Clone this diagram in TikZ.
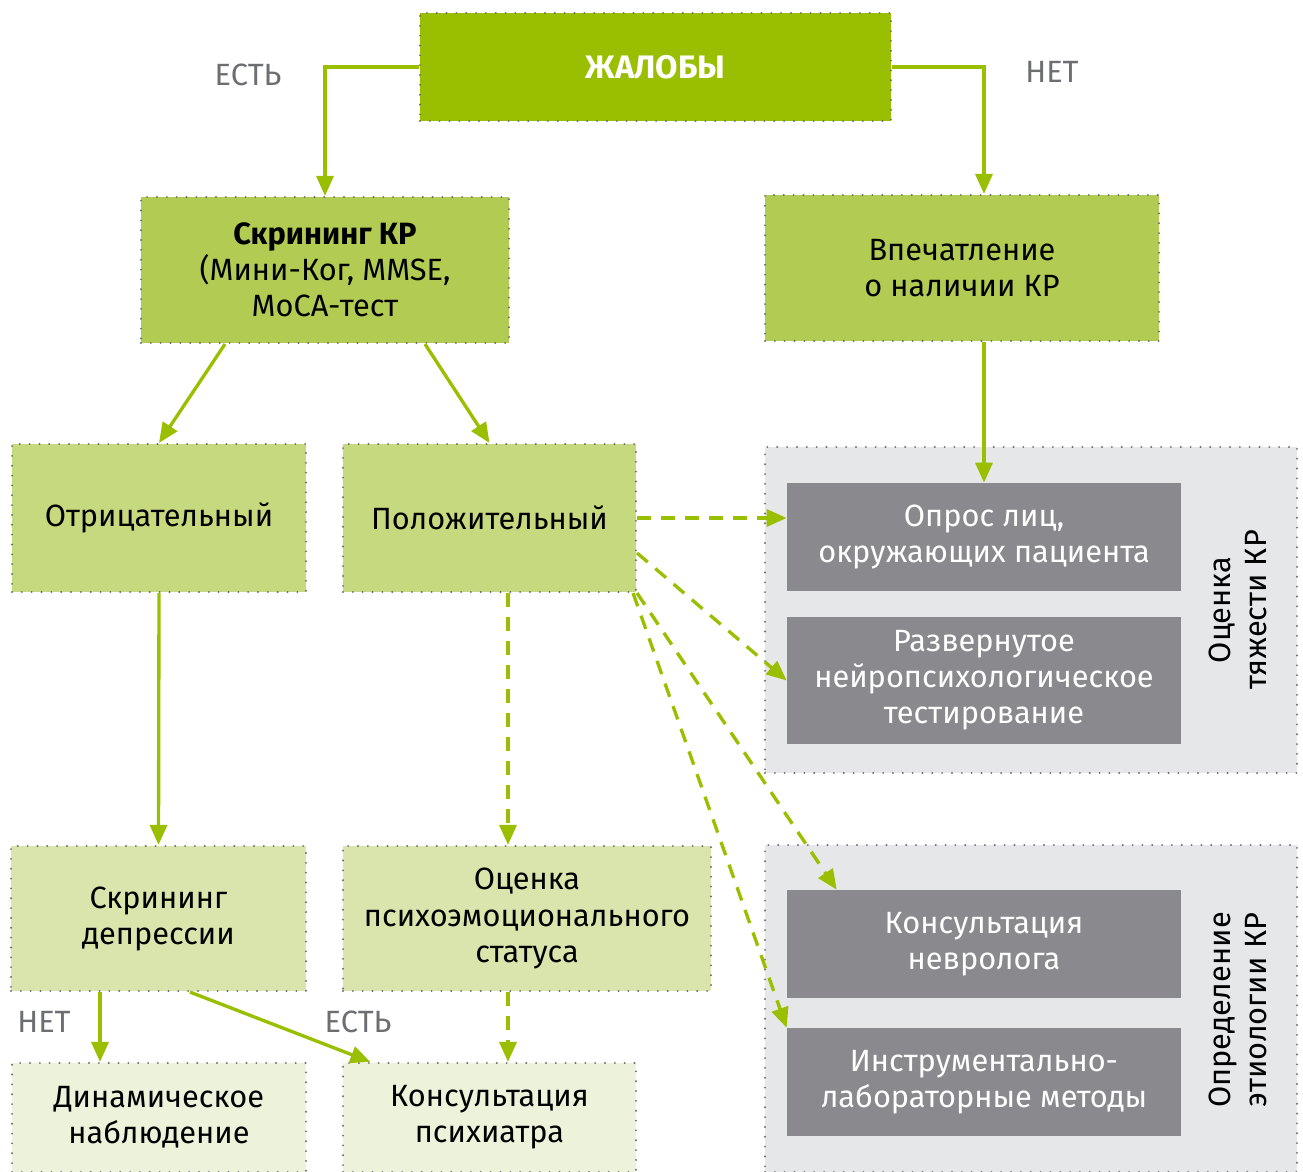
\documentclass[tikz,border=0pt]{standalone}
\usepackage{fontspec}
\setmainfont{Fira Sans}
\usetikzlibrary{arrows.meta}
\usetikzlibrary{calc}

\definecolor{leaf}{HTML}{99BF00}
\definecolor{leafA}{HTML}{B2CB52}
\definecolor{leafB}{HTML}{C7D97F}
\definecolor{leafC}{HTML}{D9E5AC}
\definecolor{leafD}{HTML}{EDF2DB}
\definecolor{panel}{HTML}{E6E7E8}
\definecolor{slate}{HTML}{8A898E}
\definecolor{dotgray}{HTML}{6D6E71}

\tikzset{
  dotframe/.style={draw=dotgray, line width=1.2pt, line cap=round, dash pattern=on 0pt off 5.6pt},
  box/.style={align=center, inner sep=0pt, font=\fontsize{17.5}{20.5}\selectfont},
  greenbox/.style={box, dotframe},
  greybox/.style={box, fill=slate, text=white},
  arr/.style={draw=leaf, line width=1.9pt, -{Triangle[length=4mm,width=3.4mm]}},
  darr/.style={arr, dash pattern=on 2.8mm off 2mm},
  answer/.style={text=dotgray, font=\fontsize{17.5}{20}\selectfont},
}

\begin{document}
\begin{tikzpicture}[x=0.2mm, y=-0.2mm]
    \useasboundingbox (0,0) rectangle (1303,1172);

    % panels
    \node[dotframe, fill=panel, minimum width=106.4mm, minimum height=65.2mm] (grpA) at (1031,610) {};
    \node[dotframe, fill=panel, minimum width=106.4mm, minimum height=65.4mm] (grpB) at (1031,1008.5) {};
    \node[box, rotate=90] (grpAlbl) at (1238,610) {Оценка\\тяжести КР};
    \node[box, rotate=90] (grpBlbl) at (1238,1010) {Определение\\этиологии КР};

    % green boxes
    \node[greenbox, fill=leaf, text=white, font=\fontsize{18.5}{20.5}\selectfont\bfseries, minimum width=94.2mm, minimum height=21.6mm] (zhal) at (655.5,67) {ЖАЛОБЫ};
    \node[greenbox, fill=leafA, minimum width=73.6mm, minimum height=29.2mm] (skr) at (325,270) {\textbf{Скрининг КР}\\(Мини-Ког, MMSE,\\MoCA-тест};
    \node[greenbox, fill=leafA, minimum width=78.8mm, minimum height=29.2mm] (vpech) at (962,268) {Впечатление\\о наличии КР};
    \node[greenbox, fill=leafB, minimum width=58.8mm, minimum height=29.6mm] (otr) at (159,518) {Отрицательный};
    \node[greenbox, fill=leafB, minimum width=58.6mm, minimum height=29.6mm] (pol) at (489.5,518) {Положительный};
    \node[greenbox, fill=leafC, minimum width=59mm, minimum height=29mm] (skrdep) at (158.5,918.5) {Скрининг\\депрессии};
    \node[greenbox, fill=leafC, minimum width=73.6mm, minimum height=29mm] (ocpsy) at (527,918.5) {Оценка\\психоэмоционального\\статуса};
    \node[greenbox, fill=leafD, minimum width=58.8mm, minimum height=21.8mm] (dyn) at (159,1117.5) {Динамическое\\наблюдение};
    \node[greenbox, fill=leafD, minimum width=58.6mm, minimum height=21.8mm] (psych) at (489.5,1117.5) {Консультация\\психиатра};

    % grey boxes
    \node[greybox, minimum width=78.8mm, minimum height=21.6mm] (opros) at (984,537) {Опрос лиц,\\окружающих пациента};
    \node[greybox, minimum width=78.8mm, minimum height=25.4mm] (razv) at (984,680.5) {Развернутое\\нейропсихологическое\\тестирование};
    \node[greybox, minimum width=78.8mm, minimum height=21.6mm] (konsnev) at (984,944) {Консультация\\невролога};
    \node[greybox, minimum width=78.8mm, minimum height=21.6mm] (instr) at (984,1082) {Инструментально-\\лабораторные методы};

    % answers
    \node[answer] (yesA) at (248,75) {ЕСТЬ};
    \node[answer] (noA) at (1052,72) {НЕТ};
    \node[answer] (noB) at (44,1022) {НЕТ};
    \node[answer] (yesB) at (358,1022) {ЕСТЬ};

    % solid arrows
    \draw[arr] (zhal.west) -| (skr.north);
    \draw[arr] (zhal.east) -| (vpech.north -| opros.north);
    \draw[arr] ([xshift=-20mm]skr.south) -- (otr.north);
    \draw[arr] ([xshift=20mm]skr.south) -- (pol.north);
    \draw[arr] (vpech.south -| opros.north) -- (opros.north);
    \draw[arr] (otr.south) -- (skrdep.north);
    \draw[arr] ([xshift=-11.7mm]skrdep.south) -- ([xshift=-11.7mm]skrdep.south |- dyn.north);
    \draw[arr] ([xshift=6.3mm]skrdep.south) -- ([xshift=5.7mm]psych.north west);

    % dashed arrows
    \draw[darr] (pol.east) -- (pol.east -| opros.west);
    \draw[darr] ([yshift=-7mm]pol.east) -- (razv.west);
    \draw[darr] (pol.south east) -- ([xshift=10mm]konsnev.north west);
    \draw[darr] ([xshift=-0.8mm]pol.south east) -- (instr.north west);
    \draw[darr] ([xshift=3.7mm]pol.south) -- ([xshift=3.7mm]pol.south |- ocpsy.north);
    \draw[darr] ([xshift=-3.8mm]ocpsy.south) -- ([xshift=-3.8mm]ocpsy.south |- psych.north);
\end{tikzpicture}
\end{document}
